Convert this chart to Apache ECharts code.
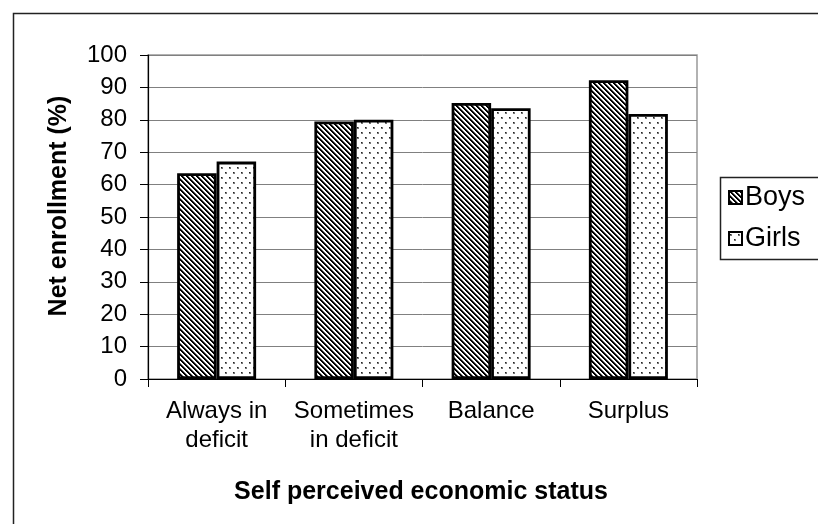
<!DOCTYPE html>
<html>
<head>
<meta charset="utf-8">
<script src="https://cdn.jsdelivr.net/npm/echarts@6/dist/echarts.min.js"></script>
<style>
html,body{margin:0;padding:0;background:#fff;}
#chart{width:818px;height:524px;}
</style>
</head>
<body>
<div id="chart"></div>
<script>
const categories = ['Always in\ndeficit', 'Sometimes\nin deficit', 'Balance', 'Surplus'];
const boys = [63.5, 79.5, 85.2, 92.2];
const girls = [67.1, 80.0, 83.6, 81.8];
const yTicks = { min: 0, max: 100, interval: 10 };

function stripeTile() {
  const c = document.createElement('canvas');
  c.width = 5; c.height = 5;
  const g = c.getContext('2d');
  g.fillStyle = '#fff'; g.fillRect(0, 0, 5, 5);
  for (let y = 0; y < 5; y++) {
    for (let x = 0; x < 5; x++) {
      const m = ((x - y) % 5 + 5) % 5;
      if (m === 0 || m === 1) { g.fillStyle = '#000'; g.fillRect(x, y, 1, 1); }
      else if (m === 2) { g.fillStyle = '#777'; g.fillRect(x, y, 1, 1); }
    }
  }
  return c;
}
function dotTile() {
  const c = document.createElement('canvas');
  c.width = 8; c.height = 10;
  const g = c.getContext('2d');
  g.fillStyle = '#fff'; g.fillRect(0, 0, 8, 10);
  g.fillStyle = '#777';
  g.fillRect(1, 2, 2, 2);
  g.fillRect(5, 7, 2, 2);
  g.fillStyle = '#222';
  g.fillRect(1, 2, 1, 1);
  g.fillRect(5, 7, 1, 1);
  return c;
}

const FONT = '"Liberation Sans", Arial, sans-serif';
const chart = echarts.init(document.getElementById('chart'), null, { renderer: 'canvas' });
chart.setOption({
  backgroundColor: '#fff',
  animation: false,
  textStyle: { fontFamily: FONT, color: '#000' },
  grid: {
    left: 148, right: 121, top: 55, bottom: 145,
    show: true, borderColor: '#999', borderWidth: 1.5, backgroundColor: 'transparent'
  },
  legend: {
    orient: 'vertical',
    left: 728, top: 184, padding: 0,
    itemWidth: 13, itemHeight: 13, itemGap: 14,
    icon: 'rect',
    textStyle: { fontSize: 27, lineHeight: 26, color: '#000', fontFamily: FONT, padding: [0, 0, 0, -2] },
    data: ['Boys', 'Girls']
  },
  xAxis: {
    type: 'category',
    data: categories,
    boundaryGap: true,
    axisLine: { lineStyle: { color: '#000', width: 1.2 } },
    axisTick: { show: true, alignWithLabel: false, length: 8, lineStyle: { color: '#000', width: 1 } },
    axisLabel: { fontSize: 24, lineHeight: 29, margin: 18, color: '#000', fontFamily: FONT, interval: 0 },
    splitLine: { show: false }
  },
  yAxis: {
    type: 'value',
    min: yTicks.min, max: yTicks.max, interval: yTicks.interval,
    axisLine: { show: true, lineStyle: { color: '#000', width: 1.2 } },
    axisTick: { show: true, length: 8, lineStyle: { color: '#000', width: 1 } },
    axisLabel: { fontSize: 24, margin: 21, color: '#000', fontFamily: FONT },
    splitLine: { show: true, lineStyle: { color: '#808080', width: 1 } }
  },
  series: [
    {
      name: 'Boys', type: 'bar', data: boys,
      barWidth: 39.5, barGap: '0%',
      itemStyle: { color: { image: stripeTile(), repeat: 'repeat' }, borderColor: '#000', borderWidth: 2.8 }
    },
    {
      name: 'Girls', type: 'bar', data: girls,
      barWidth: 39.5, barGap: '0%',
      itemStyle: { color: { image: dotTile(), repeat: 'repeat' }, borderColor: '#000', borderWidth: 2.8 }
    }
  ],
  graphic: [
    { type: 'rect', left: 11, top: 11, shape: { width: 900, height: 700 }, style: { fill: 'none', stroke: '#222', lineWidth: 1.5 }, silent: true, z: -1 },
    { type: 'rect', left: 718, top: 175, shape: { width: 200, height: 82 }, style: { fill: 'none', stroke: '#222', lineWidth: 1.5 }, silent: true },
    { type: 'text', x: 59, y: 206, rotation: Math.PI / 2,
      style: { text: 'Net enrollment (%)', font: 'bold 25px ' + FONT, fill: '#000', textAlign: 'center', textVerticalAlign: 'middle' } },
    { type: 'text', x: 421, y: 492,
      style: { text: 'Self perceived economic status', font: 'bold 25px ' + FONT, fill: '#000', textAlign: 'center', textVerticalAlign: 'middle' } }
  ]
});
</script>
</body>
</html>
